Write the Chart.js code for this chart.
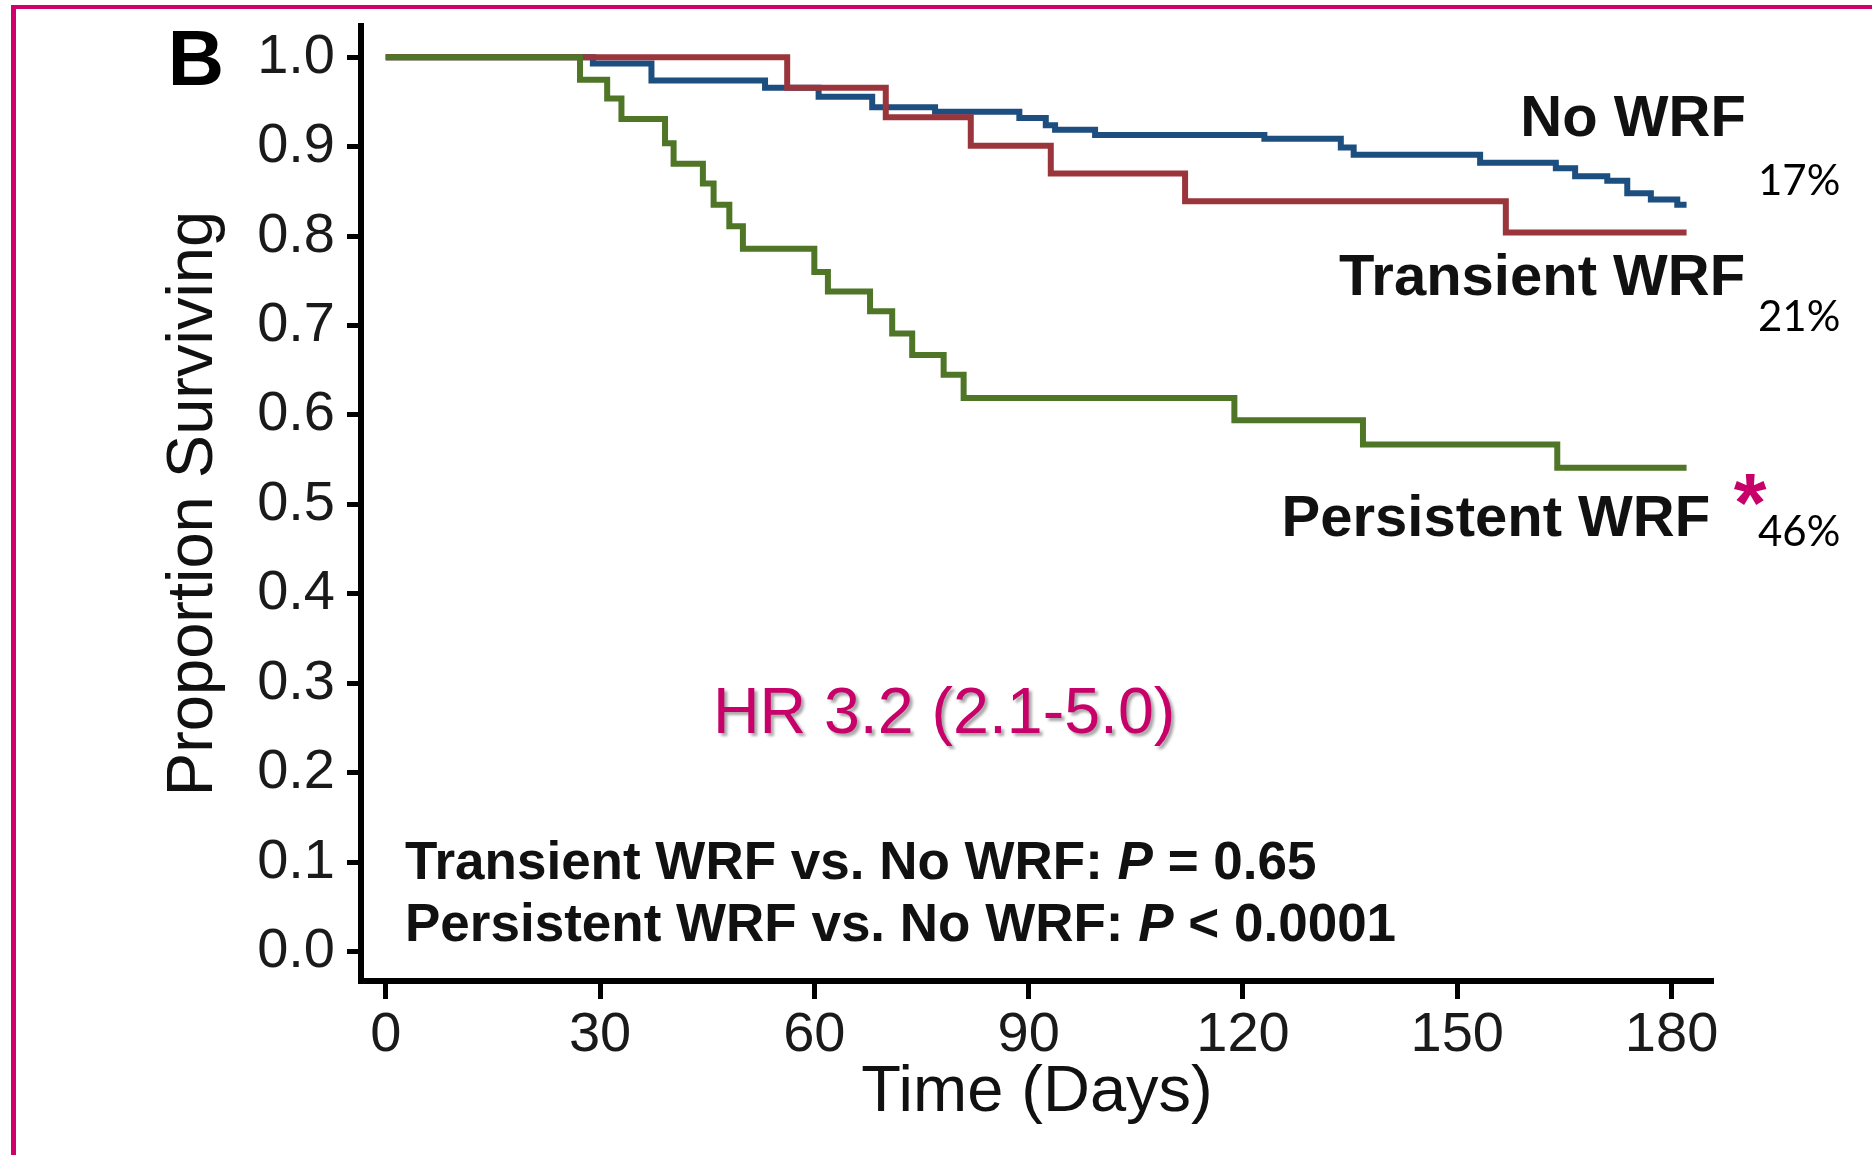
<!DOCTYPE html>
<html>
<head>
<meta charset="utf-8">
<script src="https://cdn.jsdelivr.net/npm/chart.js@4"></script>
<style>
  html, body { margin: 0; padding: 0; background: #fff; overflow: hidden; }
  #wrap { position: relative; width: 1872px; height: 1155px; }
  #frame { position: absolute; left: 11px; top: 5px; width: 3000px; height: 3000px;
           border-left: 5px solid #d0006c; border-top: 4px solid #d0006c; pointer-events: none; }
</style>
</head>
<body>
<div id="wrap">
  <canvas id="km" width="1872" height="1155"></canvas>
  <div id="frame"></div>
</div>
<script>
  // Kaplan-Meier steps (day where the new value starts, proportion surviving)
  const noWrfDays = [0, 29, 37.2, 53.1, 60.6, 68.1, 76.9, 88.7, 92.4, 93.7, 99.3, 123.0, 133.7, 135.5, 153.2, 163.8, 166.5, 171.0, 173.8, 177.1, 180.8, 182.1];
  const noWrfSurv = [1.0, 0.993, 0.974, 0.966, 0.956, 0.944, 0.939, 0.932, 0.924, 0.919, 0.913, 0.909, 0.899, 0.891, 0.882, 0.876, 0.867, 0.862, 0.848, 0.841, 0.835, 0.835];

  const transientDays = [0, 56.2, 70.0, 81.9, 93.1, 111.9, 156.8, 182.1];
  const transientSurv = [1.0, 0.966, 0.933, 0.901, 0.870, 0.839, 0.804, 0.804];

  const persistentDays = [0, 27.2, 31.0, 33.0, 39.1, 40.3, 44.4, 45.9, 48.1, 50.0, 60.0, 61.9, 67.8, 70.9, 73.7, 78.1, 80.9, 118.8, 136.8, 164.0, 182.1];
  const persistentSurv = [1.0, 0.975, 0.954, 0.931, 0.904, 0.881, 0.859, 0.835, 0.811, 0.786, 0.760, 0.738, 0.716, 0.691, 0.667, 0.645, 0.619, 0.594, 0.567, 0.541, 0.541];

  const xTicks = [0, 30, 60, 90, 120, 150, 180];
  const yTicks = [0, 0.1, 0.2, 0.3, 0.4, 0.5, 0.6, 0.7, 0.8, 0.9, 1.0];

  const FONT = "'Liberation Sans', Arial, sans-serif";
  const PINK = '#c8006a';

  function toPoints(days, surv) {
    return days.map((d, i) => ({ x: d, y: surv[i] }));
  }

  // text placed in data coordinates so it follows the axes
  const labels = [
    { text: 'B', x: -30.5, y: 0.969, align: 'left', font: 'bold 78px ' + FONT, color: '#000' },
    { text: 'No WRF', x: 190.4, y: 0.912, align: 'right', font: 'bold 58px ' + FONT, color: '#111' },
    { text: 'Transient WRF', x: 190.3, y: 0.734, align: 'right', font: 'bold 58px ' + FONT, color: '#111' },
    { text: 'Persistent WRF', x: 185.4, y: 0.465, align: 'right', font: 'bold 58px ' + FONT, color: '#111' },
    { text: '*', x: 191.0, y: 0.469, align: 'center', font: 'bold 84px ' + FONT, color: PINK },
    { text: '17%', x: 192.1, y: 0.846, align: 'left', font: '42px Lato, sans-serif', color: '#000' },
    { text: '21%', x: 192.1, y: 0.694, align: 'left', font: '42px Lato, sans-serif', color: '#000' },
    { text: '46%', x: 192.1, y: 0.453, align: 'left', font: '42px Lato, sans-serif', color: '#000' }
  ];

  const statLines = [
    { y: 0.0816, parts: [['Transient WRF vs. No WRF: ', ''], ['P', 'italic '], [' = 0.65', '']] },
    { y: 0.0119, parts: [['Persistent WRF vs. No WRF: ', ''], ['P', 'italic '], [' < 0.0001', '']] }
  ];

  const textPlugin = {
    id: 'kmText',
    afterDraw(chart) {
      const ctx = chart.ctx;
      const xs = chart.scales.x, ys = chart.scales.y;
      ctx.save();
      ctx.textBaseline = 'alphabetic';
      labels.forEach(l => {
        ctx.font = l.font;
        ctx.fillStyle = l.color;
        ctx.textAlign = l.align;
        ctx.fillText(l.text, xs.getPixelForValue(l.x), ys.getPixelForValue(l.y));
      });

      // hazard ratio, with a soft shadow
      ctx.save();
      ctx.font = '64.5px ' + FONT;
      ctx.fillStyle = PINK;
      ctx.textAlign = 'left';
      ctx.shadowColor = 'rgba(0,0,0,0.35)';
      ctx.shadowOffsetX = 3;
      ctx.shadowOffsetY = 3;
      ctx.shadowBlur = 3;
      ctx.fillText('HR 3.2 (2.1-5.0)', xs.getPixelForValue(45.8), ys.getPixelForValue(0.2445));
      ctx.restore();

      // p-value lines
      ctx.textAlign = 'left';
      ctx.fillStyle = '#111';
      statLines.forEach(line => {
        let px = xs.getPixelForValue(2.7);
        const py = ys.getPixelForValue(line.y);
        line.parts.forEach(([txt, style]) => {
          ctx.font = style + 'bold 53px ' + FONT;
          ctx.fillText(txt, px, py);
          px += ctx.measureText(txt).width;
        });
      });
      ctx.restore();
    }
  };

  new Chart(document.getElementById('km'), {
    type: 'line',
    data: {
      datasets: [
        { label: 'Persistent WRF', data: toPoints(persistentDays, persistentSurv), borderColor: '#4f7526' },
        { label: 'Transient WRF', data: toPoints(transientDays, transientSurv), borderColor: '#9a353c' },
        { label: 'No WRF', data: toPoints(noWrfDays, noWrfSurv), borderColor: '#1d4e80' }
      ].map(ds => Object.assign(ds, { stepped: 'before', borderWidth: 6, pointRadius: 0, fill: false, borderCapStyle: 'butt' }))
    },
    options: {
      responsive: false,
      devicePixelRatio: 1,
      animation: false,
      layout: { padding: { left: 0, top: 26, right: 159, bottom: 0 } },
      plugins: { legend: { display: false }, tooltip: { enabled: false } },
      scales: {
        x: {
          type: 'linear',
          min: -3.46,
          max: 185.8,
          afterBuildTicks: s => { s.ticks = xTicks.map(v => ({ value: v })); },
          afterFit: s => { s.height = 174; s.paddingLeft = 0; s.paddingRight = 0; },
          ticks: { color: '#1a1a1a', font: { family: FONT, size: 56 }, padding: 3, maxRotation: 0, autoSkip: false },
          grid: { drawOnChartArea: false, drawTicks: true, tickLength: 18, tickWidth: 5, tickColor: '#000' },
          border: { display: true, color: '#000', width: 6 },
          title: { display: true, text: 'Time (Days)', color: '#111', font: { family: FONT, size: 65 }, padding: { top: 0, bottom: 23 } }
        },
        y: {
          type: 'linear',
          min: -0.033,
          max: 1.035,
          afterBuildTicks: s => { s.ticks = yTicks.map(v => ({ value: v })); },
          afterFit: s => { s.width = 361; s.paddingTop = 0; s.paddingBottom = 0; },
          ticks: { color: '#1a1a1a', font: { family: FONT, size: 56 }, padding: 12, autoSkip: false, callback: v => v.toFixed(1) },
          grid: { drawOnChartArea: false, drawTicks: true, tickLength: 14, tickWidth: 5, tickColor: '#000' },
          border: { display: true, color: '#000', width: 6 },
          title: { display: true, text: 'Proportion Surviving', color: '#111', font: { family: FONT, size: 65 }, padding: { top: 155, bottom: 0 } }
        }
      }
    },
    plugins: [textPlugin]
  });
</script>
</body>
</html>
